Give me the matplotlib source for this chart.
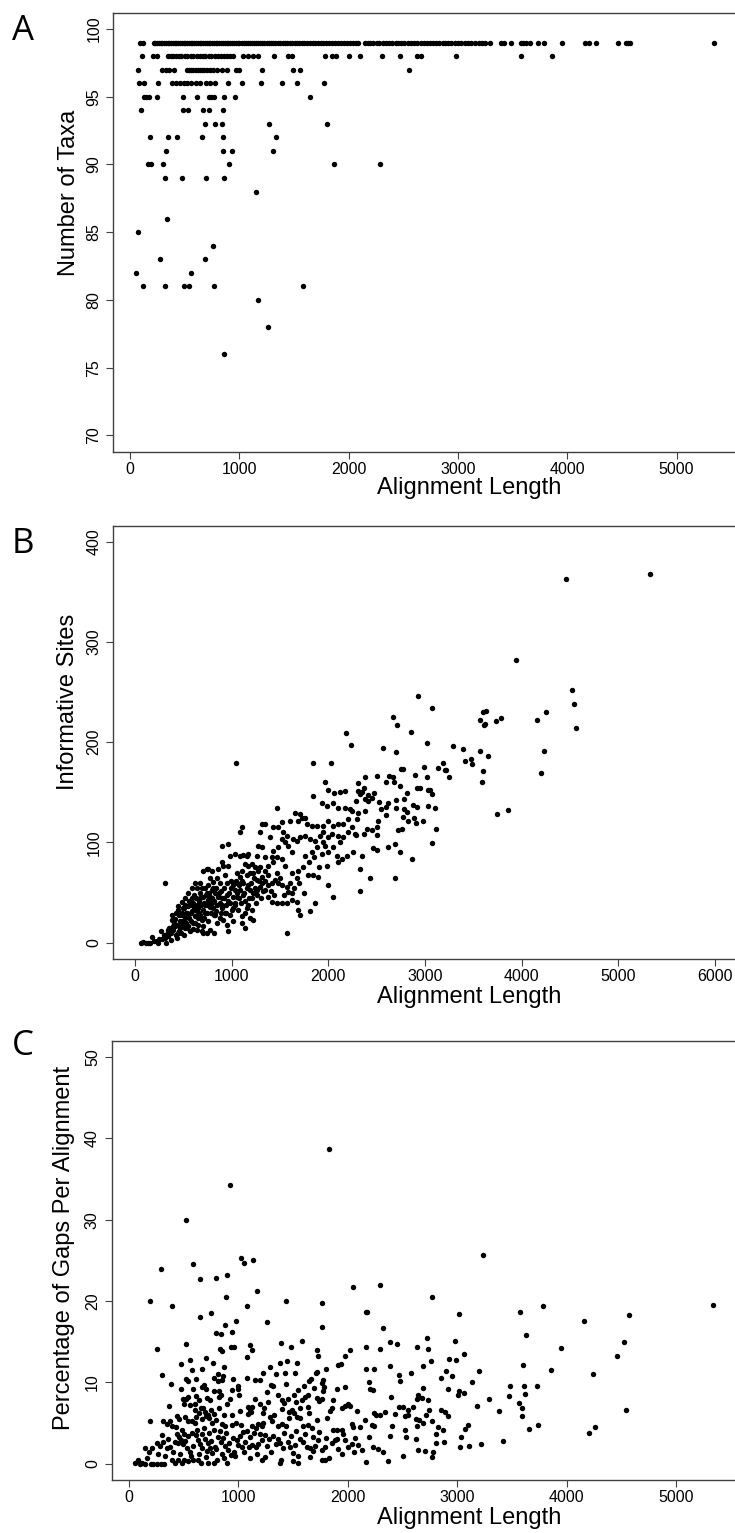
import numpy as np
import matplotlib
matplotlib.use("Agg")
import matplotlib.pyplot as plt

plt.rcParams['font.family'] = ['Liberation Sans', 'DejaVu Sans']

# ---------------- Panel A: number of taxa vs alignment length ----------------
# alignment lengths of the genes, grouped by the number of taxa they contain
a_row99 = [91, 119, 215, 232, 250, 265, 280, 296, 312, 330, 345, 360, 378, 395, 410, 425, 440,
           458, 475, 490, 505, 520, 538, 555, 570, 585, 602, 620, 636, 650, 668, 685, 700, 718,
           735, 752, 770, 785, 800, 818, 835, 850, 868, 885, 900, 918, 935, 950, 968, 985, 1000,
           1020, 1040, 1058, 1075, 1095, 1115, 1135, 1150, 1170, 1190, 1210, 1230, 1250, 1270,
           1290, 1310, 1330, 1350, 1372, 1395, 1415, 1438, 1460, 1480, 1505, 1525, 1550, 1570,
           1595, 1620, 1645, 1670, 1695, 1720, 1745, 1770, 1795, 1820, 1848, 1875, 1900, 1930,
           1958, 1985, 2012, 2040, 2065, 2090, 2150, 2175, 2200, 2225, 2255, 2280, 2310, 2340,
           2370, 2400, 2430, 2455, 2480, 2510, 2540, 2570, 2600, 2630, 2660, 2690, 2720, 2745,
           2770, 2800, 2830, 2860, 2885, 2910, 2940, 2970, 3000, 3030, 3060, 3090, 3120, 3160,
           3190, 3220, 3250, 3294, 3394, 3422, 3486, 3577, 3596, 3623, 3660, 3736, 3788, 3952,
           4163, 4200, 4264, 4465, 4538, 4556, 4575, 5343]
a_row98 = [107, 213, 244, 346, 372, 395, 420, 445, 470, 500, 525, 555, 580, 610, 640, 665, 690,
           720, 745, 775, 805, 835, 860, 890, 915, 945, 1037, 1083, 1129, 1175, 1320, 1445, 1485,
           1784, 1850, 1885, 2007, 2100, 2303, 2470, 2623, 2658, 2982, 3574, 3863]
a_row97 = [72, 297, 328, 357, 405, 520, 540, 560, 580, 600, 620, 640, 660, 680, 700, 730, 763,
           799, 839, 885, 970, 1001, 1210, 1488, 1554, 2555]
a_row96 = [85, 125, 260, 385, 420, 458, 490, 525, 562, 600, 640, 695, 735, 780, 895, 1022, 1200,
           1392, 1524, 1773]
a_row95 = [124, 145, 171, 248, 486, 611, 720, 742, 770, 862, 956, 1647]
a_row94 = [103, 485, 528, 671, 720, 850]
a_row93 = [688, 778, 841, 1272, 1805]
a_row92 = [179, 351, 433, 663, 850, 1334]
a_row91 = [329, 850, 931, 1305]
a_row90 = [160, 193, 299, 902, 1863, 2291]
a_row89 = [320, 474, 694, 857]
a_low = [(1156, 88), (342, 86), (76, 85), (763, 84), (278, 83), (686, 83), (55, 82), (558, 82),
         (122, 81), (317, 81), (497, 81), (543, 81), (772, 81), (1586, 81), (1168, 80),
         (1263, 78), (860, 76)]

# ---------------- Panel B: informative sites vs alignment length ----------------
b_cluster = [(62, 0), (86, 1), (110, 0), (131, 0), (155, 0), (224, 2), (252, 4), (283, 4), (310, 5),
             (338, 7), (235, 0), (317, 0), (372, 10), (345, 13), (397, 13), (414, 17), (431, 5),
             (448, 10), (466, 15), (483, 18), (500, 22), (517, 25), (535, 30), (414, 24), (379, 23),
             (441, 33), (483, 30), (510, 35), (552, 37), (569, 41), (604, 40), (586, 32), (621, 27),
             (545, 17), (569, 12), (604, 20), (638, 32), (655, 35), (672, 28), (690, 23), (707, 17),
             (724, 30), (741, 38), (759, 43), (776, 46), (793, 40), (810, 35), (828, 28), (845, 20),
             (821, 10), (776, 13), (741, 10), (690, 12), (638, 13), (638, 55), (672, 50), (707, 46),
             (724, 55), (759, 58), (793, 53), (828, 50), (862, 46), (879, 40), (897, 35), (931, 30),
             (948, 18), (966, 12), (914, 23), (879, 60), (845, 65), (810, 61), (776, 65), (741, 73),
             (707, 71), (672, 60), (621, 60), (586, 55), (552, 50), (517, 45), (483, 41), (448, 37),
             (948, 48), (983, 40), (1000, 33), (1017, 46), (1034, 53), (1052, 60), (1086, 66),
             (1103, 71), (1138, 78), (1172, 76), (1207, 78), (1241, 75), (1276, 71), (1310, 66),
             (1293, 56), (1259, 53), (1224, 50), (1190, 53), (1155, 55), (1121, 60), (1086, 53),
             (1052, 46), (1034, 38), (1069, 33), (1103, 27), (1138, 30), (1155, 35), (1172, 38),
             (1207, 33), (1190, 25), (1224, 23), (1103, 20), (1138, 15), (1017, 22), (931, 68),
             (966, 76), (897, 80), (862, 73), (983, 86), (1034, 88), (1086, 86), (1121, 87),
             (1155, 86), (1224, 70), (1259, 63), (1310, 60), (1345, 53), (1379, 58), (1414, 60),
             (1448, 63), (1483, 60), (1517, 58), (1569, 56), (1586, 51), (1379, 46), (1414, 41),
             (1465, 40), (1517, 40), (1569, 40), (1621, 43), (1672, 41), (1621, 50), (1690, 33),
             (1707, 28), (1810, 32), (1862, 40), (2000, 58), (2052, 46), (1569, 10), (1345, 71),
             (1379, 76), (1431, 80), (1465, 85), (1517, 83), (1552, 76), (1621, 70), (1672, 65),
             (1690, 71), (1741, 75), (1793, 68), (1845, 68), (1897, 66), (1759, 86), (1828, 90),
             (1879, 95), (1931, 88), (1966, 96), (2000, 90), (2086, 86), (2138, 83), (2190, 86),
             (2259, 90), (1983, 76), (2103, 80), (1621, 90), (1586, 96), (1552, 100), (1517, 103),
             (1483, 95), (1431, 91), (1397, 105), (1431, 115), (1483, 115), (1534, 110), (1569, 106),
             (1638, 103), (1672, 101), (1707, 105), (1759, 106), (1810, 103), (1862, 101),
             (1914, 106), (1948, 110), (2000, 105), (2034, 108), (2103, 106), (2155, 105),
             (2207, 110), (2276, 108), (1414, 85), (1345, 85), (1310, 95), (1276, 96), (1172, 88),
             (1259, 86), (1293, 110), (1310, 118), (1345, 118), (1103, 115), (1086, 110), (897, 96),
             (966, 98), (914, 76), (759, 73), (793, 71), (1465, 134), (1655, 129), (1707, 128),
             (1724, 124), (1759, 124), (1776, 118), (1828, 116), (1879, 116), (1948, 116),
             (2000, 121), (2052, 116), (2103, 118), (2155, 118), (2207, 123), (2241, 115),
             (1603, 121), (1690, 121), (1517, 120), (1845, 146), (1931, 139), (1983, 136),
             (2052, 139), (2103, 134), (2172, 134), (2224, 133), (1966, 160), (1993, 152),
             (2062, 149), (2121, 150), (2172, 151), (2241, 131), (1041, 179), (1845, 179),
             (2024, 179), (310, 60)]
b_core = [(455, 28), (470, 22), (495, 35), (520, 38), (530, 20), (560, 25), (575, 30), (590, 45),
          (615, 35), (630, 45), (650, 25), (665, 42), (680, 38), (700, 33), (715, 40), (730, 48),
          (750, 30), (765, 50), (780, 36), (800, 45), (815, 28), (835, 55), (850, 38), (870, 50),
          (885, 30), (900, 45), (920, 55), (940, 38), (955, 60), (975, 50), (990, 62), (1010, 58),
          (1030, 40), (1060, 70), (1080, 45), (1110, 62), (1130, 50), (1160, 68), (1180, 45),
          (1200, 60), (1230, 65), (1250, 40), (1280, 62), (1300, 45), (390, 17), (420, 8),
          (460, 12), (505, 8), (540, 15), (600, 14), (650, 18), (700, 10), (370, 3), (300, 8),
          (200, 2), (180, 6), (270, 12),
          (330, 9), (355, 15), (385, 28), (405, 20), (425, 30), (440, 18), (475, 10), (490, 28),
          (515, 15), (525, 30), (545, 26), (560, 42), (580, 22), (595, 38), (610, 48), (625, 20),
          (645, 38), (660, 30), (675, 45), (695, 55), (710, 25), (725, 38), (740, 50), (755, 22),
          (770, 40), (790, 30), (805, 55), (820, 42), (840, 32), (855, 48), (875, 25), (890, 52),
          (905, 38), (925, 45), (945, 30), (960, 42), (980, 28), (995, 55), (1015, 35), (1040, 62),
          (1060, 50), (1075, 58), (1095, 40), (1115, 48), (1140, 42), (1165, 58), (1185, 70),
          (1210, 45), (1240, 55), (1265, 48), (1290, 75), (1320, 52), (1350, 62), (1380, 68),
          (1405, 52), (1440, 48), (1470, 70), (1500, 65), (1540, 48), (1600, 60), (1650, 55),
          (1700, 60), (1750, 50), (1800, 80), (1850, 85), (1900, 75), (1950, 100), (2050, 95),
          (2120, 100)]
b_mid = [(2179, 209), (2237, 197), (2673, 225), (2712, 217), (2567, 194), (2702, 190), (2673, 165),
         (2630, 166), (2504, 166), (2383, 165), (2310, 159), (2596, 160), (2678, 160), (2692, 98),
         (2688, 65), (2431, 65), (2324, 52), (2722, 112), (2508, 107), (2499, 92), (2460, 94),
         (2620, 95), (2518, 121), (2504, 115), (2451, 112), (2373, 108), (2349, 86), (2324, 73),
         (2397, 113), (2286, 141), (2305, 151), (2349, 150), (2373, 154), (2324, 148), (2383, 131),
         (2310, 129), (2295, 123), (2383, 143), (2407, 141), (2451, 144), (2470, 149), (2407, 147),
         (2528, 140), (2543, 133), (2596, 127), (2620, 139), (2596, 135), (2702, 134), (2290, 107),
         (2700, 142)]
b_right = [(5331, 368), (4455, 363), (3944, 282), (4520, 252), (4541, 238), (4565, 214), (4255, 230),
           (4158, 222), (4234, 191), (4203, 169), (2927, 246), (3069, 234), (3603, 230), (3631, 231),
           (3572, 222), (3613, 217), (3625, 218), (3734, 221), (3786, 224), (2858, 210), (3024, 199),
           (3293, 196), (3389, 193), (3569, 191), (3655, 186), (3417, 181), (3472, 183), (3489, 178),
           (3186, 179), (3138, 174), (3203, 172), (3220, 172), (3244, 165), (3596, 171), (3593, 160),
           (2989, 175), (2896, 167), (3017, 165), (2755, 173), (2775, 173), (2741, 156), (2920, 154),
           (2948, 154), (3034, 152), (3048, 152), (3072, 148), (2813, 149), (2779, 143), (2786, 133),
           (2810, 130), (2879, 137), (2920, 135), (3031, 136), (3106, 134), (2775, 125), (2886, 124),
           (2903, 119), (2827, 121), (2979, 121), (3113, 113), (2765, 113), (3075, 99), (2741, 90),
           (2865, 83), (3741, 128), (3855, 132)]

# ---------------- Panel C: percentage of gaps vs alignment length ----------------
c_upper = [(1831, 38.7), (924, 34.3), (518, 29.9), (1026, 25.3), (1048, 24.7), (1138, 25.0),
           (582, 24.6), (295, 23.9), (898, 23.2), (654, 22.7), (796, 22.8), (2292, 22.0),
           (2049, 21.7), (1172, 21.2), (890, 20.5), (197, 20.0), (1433, 20.0), (1762, 19.8),
           (1082, 19.4), (393, 19.4), (2164, 18.7), (2178, 18.7), (752, 18.5), (654, 18.0),
           (1262, 17.4), (975, 17.5), (1762, 16.8), (2322, 16.7), (881, 17.0), (800, 16.1),
           (843, 15.9), (945, 16.2)]
c_right = [(3238, 25.6), (2772, 20.5), (3783, 19.4), (5335, 19.5), (3019, 18.4), (3570, 18.6),
           (4568, 18.3), (4160, 17.6), (3628, 15.8), (4523, 15.0), (2979, 15.1), (2721, 15.4),
           (2632, 14.3), (2736, 14.1), (3947, 14.2), (3064, 13.5), (2760, 12.6), (2924, 12.9),
           (2985, 12.8), (4456, 13.3), (2684, 12.0), (3603, 12.1), (3198, 11.4), (2894, 11.4),
           (2574, 11.1), (3856, 11.5), (4236, 11.0), (2949, 10.8), (2477, 10.2), (2854, 10.5),
           (3135, 10.0), (2918, 9.2), (2690, 9.3), (3485, 9.6), (3609, 9.5), (3731, 9.5), (3016, 8.9),
           (3064, 8.7), (3619, 8.6), (3469, 8.3), (3287, 8.0), (2629, 7.9), (2644, 8.4), (2681, 8.1),
           (2736, 7.8), (3010, 8.4), (3567, 7.5), (3591, 6.8), (3594, 5.9), (3384, 6.5), (3183, 7.1),
           (2593, 7.0), (2507, 7.0), (2553, 6.6), (2523, 5.9), (2547, 6.0), (2623, 5.5), (2654, 5.4),
           (2690, 5.0), (2711, 6.0), (2742, 6.6), (2766, 5.2), (2848, 6.6), (2888, 6.4), (2918, 5.9),
           (2821, 4.5), (2873, 4.1), (2803, 3.6), (2806, 2.5), (2879, 2.7), (3098, 4.8), (3074, 4.3),
           (3034, 3.3), (2523, 4.2), (2532, 3.3), (2623, 3.1), (2635, 4.6), (2638, 1.7), (2705, 1.6),
           (2775, 1.4), (2766, 0.8), (2507, 1.0), (3025, 2.0), (3110, 2.2), (3217, 2.4), (3414, 2.8),
           (3655, 4.3), (3740, 4.7), (4203, 3.8), (4258, 4.5), (4541, 6.6)]
c_mid = [(2382, 15.0), (2451, 14.7), (2468, 10.9), (2387, 12.0), (2395, 8.2), (2404, 4.6),
         (2387, 3.4), (2365, 0.3), (2468, 7.0), (2429, 6.1), (2340, 6.4)]
c_cluster = [(255, 14.1), (525, 14.7), (830, 14.1), (848, 13.8), (933, 14.3), (958, 14.3), (1104, 14.6),
             (1122, 14.0), (1079, 13.1), (1387, 14.9), (1481, 14.4), (1582, 15.1), (1722, 14.0),
             (1725, 13.2), (2020, 14.0), (2163, 14.3), (2294, 14.1), (1974, 13.2), (1913, 12.1),
             (1938, 12.2), (1801, 11.6), (1448, 12.6), (1381, 12.4), (1533, 12.4), (1292, 11.9),
             (559, 12.8), (477, 12.3), (708, 13.0), (772, 12.4), (872, 11.9),
             (306, 10.9), (519, 10.4), (537, 10.2), (580, 11.5), (671, 11.7), (611, 10.4), (781, 10.5),
             (818, 11.0), (812, 10.2), (860, 10.8), (854, 10.3), (955, 10.4), (1082, 10.5), (1153, 10.3),
             (1198, 10.3), (1228, 11.2), (1299, 9.7), (1317, 9.6), (1344, 11.0), (1423, 11.1),
             (1521, 11.2), (1645, 10.2), (1664, 10.4), (1722, 11.3), (1710, 11.2), (1776, 10.3),
             (1761, 9.9), (1542, 9.1), (1776, 8.9), (1691, 9.3), (1783, 9.4), (1898, 9.2), (1974, 9.4),
             (385, 9.8), (477, 9.2), (589, 9.2), (690, 9.7), (666, 9.4), (702, 9.2), (781, 9.0),
             (824, 9.0), (842, 8.5), (824, 8.2), (940, 9.1), (1000, 9.5), (994, 9.2), (1006, 8.5),
             (714, 8.1), (742, 7.8), (611, 8.3), (544, 8.2), (525, 8.0), (2197, 10.1), (2163, 11.7),
             (2242, 11.7), (2203, 9.2), (2233, 9.1),
             (367, 7.1), (498, 8.0), (507, 7.4), (605, 7.4), (605, 6.6), (659, 6.8), (674, 6.9),
             (751, 6.6), (726, 6.0), (781, 6.1), (894, 7.4), (945, 6.0), (1085, 7.0), (1107, 6.6),
             (1092, 6.1), (1122, 7.0), (1116, 6.3), (1198, 7.4), (1274, 7.6), (1238, 6.8), (1229, 6.2),
             (1360, 8.5), (1396, 7.8), (1417, 7.5), (1457, 8.0), (1509, 8.5), (1524, 7.6), (1579, 7.8),
             (1609, 8.2), (1633, 8.5), (1560, 6.8), (1487, 6.6), (1466, 6.3), (1509, 6.2), (1396, 6.7),
             (1640, 7.0), (1649, 6.2), (1719, 8.1), (1740, 7.7), (1761, 8.0), (1865, 7.8), (1853, 6.9),
             (1840, 6.5), (1950, 6.9), (1974, 7.1), (2005, 7.4), (2020, 7.1), (2087, 6.5), (2236, 6.2),
             (2255, 6.0), (2291, 6.0), (2218, 4.8), (2242, 4.6), (194, 5.2), (315, 5.2), (346, 4.9),
             (376, 5.2), (391, 4.6), (437, 5.9), (458, 5.5), (513, 5.7), (537, 5.3), (574, 5.3),
             (605, 5.0), (614, 5.7), (641, 6.2), (671, 5.5), (702, 5.9), (732, 5.6), (763, 5.0),
             (793, 5.4), (848, 4.9), (878, 4.6), (945, 4.7), (982, 5.0), (1025, 4.8), (1046, 3.9),
             (1122, 4.6), (1159, 4.4), (1183, 4.9), (1213, 4.6), (1229, 5.0), (1290, 5.7), (1305, 5.2),
             (1366, 4.6), (1402, 4.9), (1439, 4.6), (1466, 5.6), (1539, 5.8), (1560, 5.6), (1594, 4.6),
             (1633, 4.8), (1670, 4.4), (1716, 5.4), (1810, 5.6), (1868, 4.2), (1898, 4.1), (1944, 4.1),
             (1959, 3.7), (2035, 4.9), (2050, 4.5), (2111, 4.5), (2157, 5.4),
             (255, 2.5), (285, 2.2), (315, 2.7), (346, 1.9), (376, 2.1), (422, 2.7), (452, 2.6),
             (477, 2.9), (498, 2.4), (529, 1.9), (437, 3.7), (461, 3.3), (507, 3.7), (544, 3.4),
             (574, 3.8), (611, 3.5), (629, 2.9), (650, 2.4), (671, 1.9), (696, 3.1), (720, 2.5),
             (742, 1.9), (763, 1.3), (787, 2.1), (818, 3.3), (842, 2.7), (863, 3.2), (878, 2.2),
             (909, 1.7), (933, 1.1), (970, 0.9), (985, 2.9), (1016, 3.4), (1037, 2.1), (1061, 2.7),
             (1107, 3.3), (1128, 2.3), (1159, 2.1), (1183, 2.4), (1213, 2.9), (1244, 3.5), (1280, 3.0),
             (1320, 3.4), (1360, 3.1), (1381, 2.5), (1411, 1.9), (1451, 2.7), (1472, 2.1), (1502, 1.3),
             (1548, 0.9), (1518, 2.3), (1563, 3.1), (1594, 2.7), (1624, 2.1), (1655, 1.9), (1685, 3.3),
             (1700, 2.2), (1725, 2.9), (1761, 1.7), (1792, 2.1), (1828, 0.7), (1858, 2.5), (1883, 2.9),
             (1913, 1.8), (1944, 1.2), (1974, 2.9), (2005, 2.1), (2035, 2.4), (2066, 3.2), (2096, 2.3),
             (2133, 1.7), (2233, 2.1), (2279, 1.8), (2325, 1.4), (2163, 0.2), (1655, 0.8), (1761, 0.5),
             (1792, 0.5), (1381, 0.1), (1390, 0.5), (1548, 0.1), (1502, 0.3), (1107, 0.7), (1213, 0.5),
             (1244, 0.8), (781, 0.05), (802, 0.5), (872, 0.7), (894, 0.1), (702, 0.8), (720, 0.1),
             (629, 0.4), (659, 0.05), (589, 0.5), (568, 0.9), (483, 0.1), (507, 0.5), (544, 0.3),
             (391, 0.5), (422, 0.05), (452, 0.5), (255, 0), (294, 0), (324, 0), (163, 0.7), (148, 0),
             (57, 0.1), (81, 0.3), (102, 0), (123, 0.1), (87, 0.5), (203, 0), (224, 0), (148, 1.9),
             (184, 1.5), (209, 1.9)]
c_core = [(270, 1.2), (300, 3.5), (330, 1.0), (360, 3.0), (405, 1.5), (430, 4.5), (470, 1.2),
          (490, 4.2), (515, 2.8), (555, 1.5), (590, 2.2), (620, 4.2), (640, 1.2), (665, 3.6),
          (685, 4.4), (710, 1.6), (735, 3.8), (755, 2.8), (775, 4.2), (800, 1.8), (830, 4.0),
          (855, 1.2), (890, 3.8), (915, 2.6), (950, 3.2), (960, 1.5), (1000, 2.3), (1050, 1.5),
          (1075, 4.0), (1095, 2.0), (1140, 3.8), (1175, 1.2), (1200, 3.6), (1260, 2.2), (1300, 1.5),
          (1340, 2.4), (1420, 3.8), (1480, 3.4), (1530, 4.0), (1610, 3.6), (1680, 1.6), (1740, 3.9),
          (1800, 3.2), (1900, 3.0), (2060, 1.5), (2190, 3.3), (560, 7.2), (640, 7.8), (700, 6.4),
          (820, 6.8), (870, 6.0), (920, 8.0), (1020, 6.5), (1150, 8.0), (1260, 8.8), (1330, 6.0),
          (1440, 9.8), (1600, 9.5)]

a_rows = {99: a_row99, 98: a_row98, 97: a_row97, 96: a_row96, 95: a_row95, 94: a_row94,
          93: a_row93, 92: a_row92, 91: a_row91, 90: a_row90, 89: a_row89}
ax_len = [x for n, row in a_rows.items() for x in row] + [p[0] for p in a_low]
ax_taxa = [n for n, row in a_rows.items() for x in row] + [p[1] for p in a_low]

b_pts = np.array(b_cluster + b_core + b_mid + b_right, dtype=float)
c_pts = np.array(c_upper + c_right + c_mid + c_cluster + c_core, dtype=float)

W, H = 735, 1533
fig = plt.figure(figsize=(W / 100, H / 100), dpi=100)


def add_axes(left, top, right, bottom):
    return fig.add_axes([left / W, 1 - bottom / H, (right - left) / W, (bottom - top) / H])


def style(ax):
    for s in ax.spines.values():
        s.set_color('#404040')
        s.set_linewidth(1.0)
    ax.tick_params(direction='out', length=5, width=0.8, color='#404040', labelsize=11.5)
    ax.tick_params(axis='x', pad=2.5)
    ax.tick_params(axis='y', pad=3.5)
    for lab in ax.get_yticklabels():
        lab.set_rotation(90)
        lab.set_va('center')


dot = dict(linestyle='none', marker='o', markersize=3.9, markeredgewidth=0, color='black')

# Panel A
axA = add_axes(113.3, 12.7, 737, 451.7)
axA.plot(ax_len, ax_taxa, **dot)
axA.set_xlim(-153, 5553)
axA.set_ylim(68.8, 101.2)
axA.set_xticks([0, 1000, 2000, 3000, 4000, 5000])
axA.set_yticks([70, 75, 80, 85, 90, 95, 100])
style(axA)

# Panel B
axB = add_axes(113.3, 525.7, 737, 959)
axB.plot(b_pts[:, 0], b_pts[:, 1], **dot)
axB.set_xlim(-224, 6227)
axB.set_ylim(-16.3, 416)
axB.set_xticks([0, 1000, 2000, 3000, 4000, 5000, 6000])
axB.set_yticks([0, 100, 200, 300, 400])
style(axB)

# Panel C
axC = add_axes(111.7, 1040.7, 737, 1480)
axC.plot(c_pts[:, 0], c_pts[:, 1], **dot)
axC.set_xlim(-156, 5554)
axC.set_ylim(-2.0, 52.0)
axC.set_xticks([0, 1000, 2000, 3000, 4000, 5000])
axC.set_yticks([0, 10, 20, 30, 40, 50])
style(axC)

# axis titles
for ylab, xc, yc in [('Number of Taxa', 69, 192.7), ('Informative Sites', 68, 701.5),
                     ('Percentage of Gaps Per Alignment', 64, 1248)]:
    fig.text(xc / W, 1 - yc / H, ylab, rotation=90, ha='center', va='center', fontsize=17)
for yb in [494, 1003, 1524]:
    fig.text(469 / W, 1 - yb / H, 'Alignment Length', ha='center', va='baseline', fontsize=17)

# panel letters
for letter, yb in [('A', 40), ('B', 553), ('C', 1055)]:
    fig.text(12 / W, 1 - yb / H, letter, ha='left', va='baseline', fontsize=25,
             family=['Open Sans', 'DejaVu Sans'])

fig.savefig('out.png', dpi=100)
